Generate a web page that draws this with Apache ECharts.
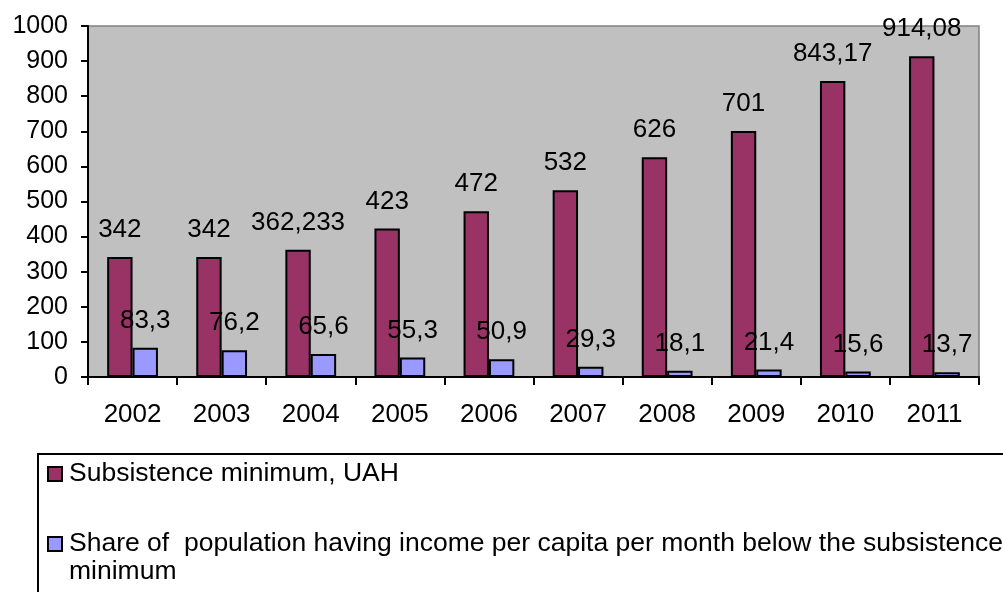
<!DOCTYPE html>
<html><head><meta charset="utf-8">
<script src="https://cdn.jsdelivr.net/npm/echarts@6/dist/echarts.min.js"></script>
<style>html,body{margin:0;padding:0;background:#fff;}#c{width:1003px;height:592px;}</style>
</head><body><div id="c"></div>
<script>
var years = ['2002','2003','2004','2005','2006','2007','2008','2009','2010','2011'];
var subsistence = [342, 342, 362.233, 423, 472, 532, 626, 701, 843.17, 914.08];
var share = [83.3, 76.2, 65.6, 55.3, 50.9, 29.3, 18.1, 21.4, 15.6, 13.7];
var yTicks = [0, 100, 200, 300, 400, 500, 600, 700, 800, 900, 1000];
var nameA = 'Subsistence minimum, UAH';
var nameB = 'Share of  population having income per capita per month below the subsistence minimum';

var FONT = 'Liberation Sans, Arial, sans-serif';
var chart = echarts.init(document.getElementById('c'));
function fmt(p){ return String(p.value).replace('.', ','); }
var legendText = { fontSize: 26.5, color: '#000', fontFamily: FONT, lineHeight: 28,
  rich: { g: { width: 2, fontSize: 26.5, lineHeight: 28 } } };
chart.setOption({
  animation: false,
  textStyle: { fontFamily: FONT },
  grid: { left: 88, right: 24, top: 26, bottom: 215, show: true, backgroundColor: '#c0c0c0', borderColor: '#808080', borderWidth: 1.5 },
  graphic: [{ type: 'rect', left: 37, top: 453, shape: { width: 1100, height: 200 }, style: { fill: '#fff', stroke: '#000', lineWidth: 2 }, z: 0 }],
  legend: [
    {
      orient: 'vertical', left: 47, top: 460, padding: 0, itemWidth: 14, itemHeight: 14,
      icon: 'rect', data: [nameA],
      formatter: function(n){ return '{g| }' + n; },
      textStyle: legendText
    },
    {
      orient: 'vertical', left: 47, top: 502, padding: 0, itemWidth: 14, itemHeight: 14,
      icon: 'rect', data: [nameB],
      formatter: function(n){
        return '{g| }\n{g| }Share of  population having income per capita per month below the subsistence\n{g| }minimum';
      },
      textStyle: legendText
    }
  ],
  xAxis: {
    type: 'category', data: years,
    axisLine: { lineStyle: { color: '#000', width: 2 } },
    axisTick: { show: true, length: 8, lineStyle: { color: '#000', width: 2 }, interval: 0 },
    axisLabel: { fontSize: 26, color: '#000', margin: 25, fontFamily: FONT },
    splitLine: { show: false }
  },
  yAxis: {
    type: 'value', min: yTicks[0], max: yTicks[yTicks.length-1], interval: 100,
    axisLine: { show: true, lineStyle: { color: '#000', width: 2 } },
    axisTick: { show: true, length: 7, lineStyle: { color: '#000', width: 2 } },
    axisLabel: { fontSize: 25, color: '#000', margin: 20, fontFamily: FONT, formatter: function(v){ return String(v); } },
    splitLine: { show: false }
  },
  series: [
    { name: nameA, type: 'bar', data: subsistence, barGap: '0%', barCategoryGap: '43%',
      itemStyle: { color: '#993366', borderColor: '#000', borderWidth: 2 },
      label: { show: true, position: 'top', distance: 14, fontSize: 26, color: '#000', fontFamily: FONT, formatter: fmt } },
    { name: nameB, type: 'bar', data: share,
      itemStyle: { color: '#9999ff', borderColor: '#000', borderWidth: 2 },
      label: { show: true, position: 'top', distance: 14, fontSize: 26, color: '#000', fontFamily: FONT, formatter: fmt } }
  ]
});
</script></body></html>
